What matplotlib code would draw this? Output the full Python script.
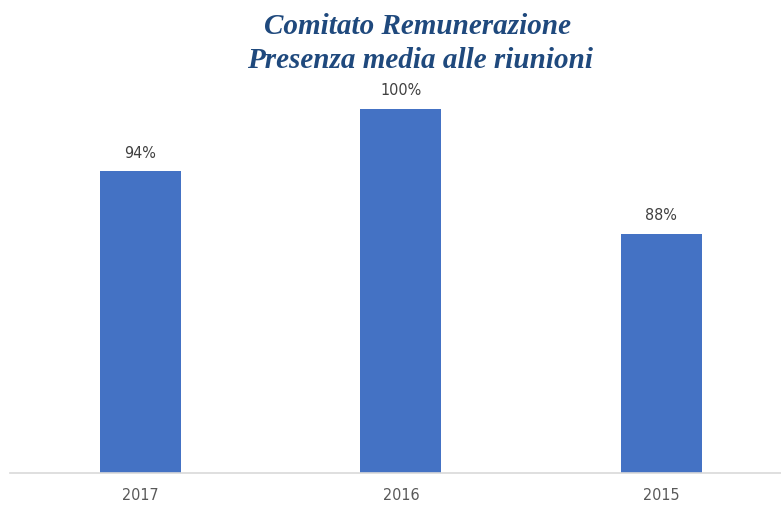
import matplotlib
matplotlib.use("Agg")
from matplotlib import pyplot as plt
from matplotlib import font_manager

# Data
years = ["2017", "2016", "2015"]
presence = [0.94, 1.00, 0.88]
value_labels = ["94%", "100%", "88%"]

title_lines = ["Comitato Remunerazione", "Presenza media alle riunioni"]

# Narrow sans: the original looks like Calibri; use a condensed face if present
names = {f.name for f in font_manager.fontManager.ttflist}
narrow = "Liberation Sans Narrow" if "Liberation Sans Narrow" in names else "DejaVu Sans"
narrow_kw = dict(family=narrow, stretch="condensed")

W, H = 781, 505
fig = plt.figure(figsize=(W / 100, H / 100), dpi=100)

# Axes placed in pixel terms: baseline at y=473, top at y=90, left at x=10
ax = fig.add_axes([10 / W, (H - 473) / H, (W - 10) / W, 383 / H])

x = range(len(years))
ax.bar(x, presence, width=0.31, color="#4472C4", zorder=2)

for i, (v, lab) in enumerate(zip(presence, value_labels)):
    ax.text(i, v + 0.01, lab, ha="center", va="bottom", fontsize=11.5,
            color="#404040", **narrow_kw)

ax.set_xlim(-0.5, 2.459)
ax.set_ylim(0.65, 1.018)

for s in ["top", "right", "left"]:
    ax.spines[s].set_visible(False)
ax.spines["bottom"].set_color("#D9D9D9")
ax.spines["bottom"].set_linewidth(1.2)

ax.set_yticks([])
ax.set_xticks(list(x))
ax.set_xticklabels(years, fontsize=11.5, color="#595959", **narrow_kw)
ax.tick_params(axis="x", length=0, pad=11)

# Two-line title, serif bold italic dark blue
fig.text(417 / W, 1 - 27 / H, title_lines[0], ha="center", va="center",
         fontsize=21, family="Liberation Serif", weight="bold", style="italic",
         color="#1F497D")
fig.text(420 / W, 1 - 61 / H, title_lines[1], ha="center", va="center",
         fontsize=21, family="Liberation Serif", weight="bold", style="italic",
         color="#1F497D")

fig.savefig("out.png", dpi=100)
